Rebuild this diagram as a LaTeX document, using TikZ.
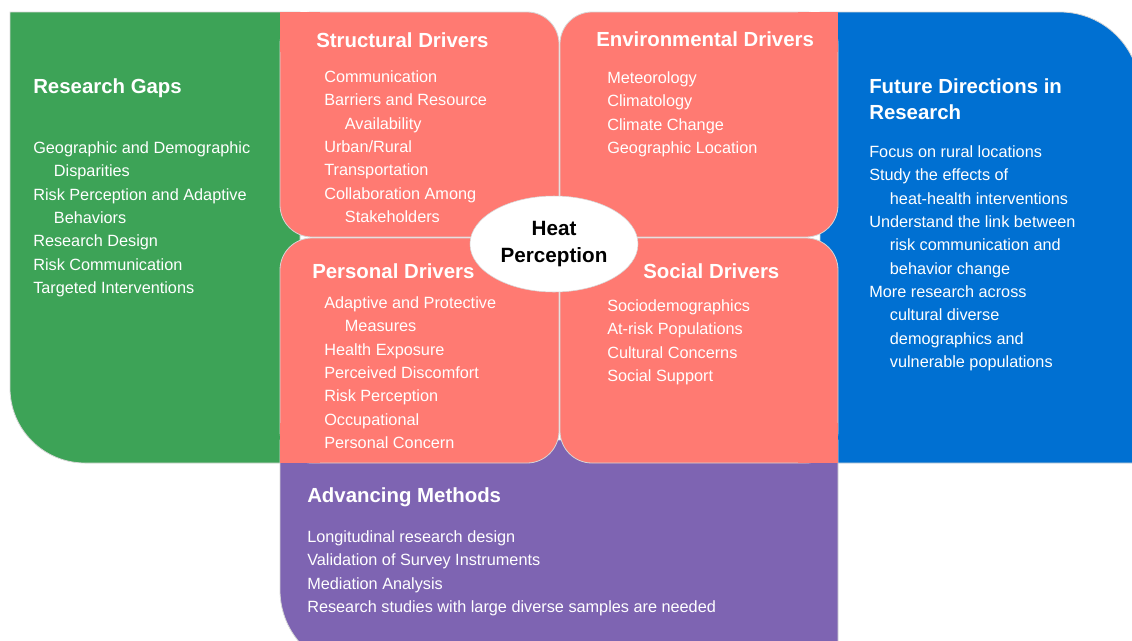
\documentclass[tikz,border=0pt]{standalone}
\usepackage{fontspec}
\setmainfont{Liberation Sans}
\usetikzlibrary{shapes.geometric}
\definecolor{gapgreen}{RGB}{61,163,87}
\definecolor{salmon}{RGB}{255,122,114}
\definecolor{futureblue}{RGB}{0,112,210}
\definecolor{methodpurple}{RGB}{126,100,178}
\definecolor{edge}{RGB}{214,214,214}
\newcommand{\wrapind}{\hspace*{15.5pt}}

\begin{document}
\begin{tikzpicture}[
  x=0.75pt, y=-0.75pt,
  panel/.style={draw=edge, line width=0.6pt},
  driver/.style={panel, fill=salmon, rounded corners=24pt},
  head/.style={anchor=north west, inner sep=0pt, text=white, align=left, font=\fontsize{15.3}{19.5}\selectfont\bfseries},
  items/.style={anchor=north west, inner sep=0pt, align=left, text=white, font=\fontsize{12.2}{17.5}\selectfont}
]
\useasboundingbox (0,0) rectangle (1132,640);
\clip (0,0) rectangle (1132,640);

\filldraw[panel, fill=gapgreen] (300,12) -- (10,12) -- (10,388) arc[start angle=180, end angle=90, radius=75] -- (300,463) -- cycle;
\filldraw[panel, fill=futureblue] (820,12) -- (1060,12) arc[start angle=270, end angle=360, radius=80] -- (1140,463) -- (820,463) -- cycle;
\filldraw[panel, fill=methodpurple] (280,440) -- (838,440) -- (838,670) -- (360,670) arc[start angle=90, end angle=180, radius=80] -- cycle;

\filldraw[driver] (280,12) rectangle (559,237);
\fill[salmon] (280,12) rectangle (320,52);
\filldraw[driver] (560,12) rectangle (838,237);
\fill[salmon] (798,12) rectangle (838,52);
\filldraw[driver] (280,238) rectangle (559,463);
\fill[salmon] (280,423) rectangle (320,463);
\filldraw[driver] (560,238) rectangle (838,463);
\fill[salmon] (798,423) rectangle (838,463);

\node[ellipse, fill=white, draw=edge, minimum width=126pt, minimum height=72pt, inner sep=0pt, align=center,
  font=\fontsize{15.5}{20.25}\selectfont\bfseries] (heat) at (554,244) {Heat\\Perception};

\node[head] (gapshead) at (33,78) {Research Gaps};
\node[items] (gaps) at (33,141.5) {Geographic and Demographic\\\wrapind Disparities\\Risk Perception and Adaptive\\\wrapind Behaviors\\Research Design\\Risk Communication\\Targeted Interventions};

\node[head] (structhead) at (316,32) {Structural Drivers};
\node[items] (struct) at (324,70.5) {Communication\\Barriers and Resource\\\wrapind Availability\\Urban/Rural\\Transportation\\Collaboration Among\\\wrapind Stakeholders};

\node[head] (envhead) at (596,31) {Environmental Drivers};
\node[items] (env) at (607,71.5) {Meteorology\\Climatology\\Climate Change\\Geographic Location};

\node[head] (pershead) at (312,263) {Personal Drivers};
\node[items] (pers) at (324,296.5) {Adaptive and Protective\\\wrapind Measures\\Health Exposure\\Perceived Discomfort\\Risk Perception\\Occupational\\Personal Concern};

\node[head] (sochead) at (643,263) {Social Drivers};
\node[items] (soc) at (607,299.5) {Sociodemographics\\At-risk Populations\\Cultural Concerns\\Social Support};

\node[head] (futurehead) at (869,78) {Future Directions in\\Research};
\node[items] (future) at (869,145.5) {Focus on rural locations\\Study the effects of\\\wrapind heat-health interventions\\Understand the link between\\\wrapind risk communication and\\\wrapind behavior change\\More research across\\\wrapind cultural diverse\\\wrapind demographics and\\\wrapind vulnerable populations};

\node[head] (methodhead) at (307,487) {Advancing Methods};
\node[items] (method) at (307,530.5) {Longitudinal research design\\Validation of Survey Instruments\\Mediation Analysis\\Research studies with large diverse samples are needed};
\end{tikzpicture}
\end{document}
